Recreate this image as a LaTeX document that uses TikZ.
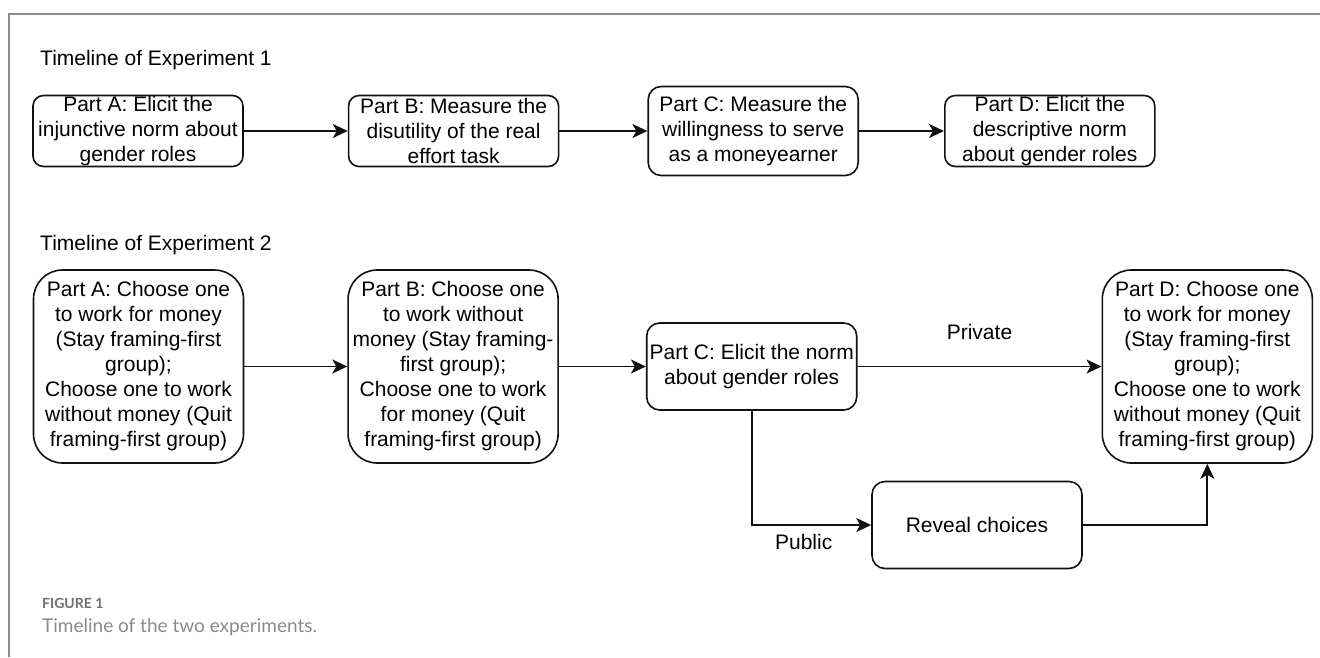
\documentclass[tikz,border=0pt]{standalone}
\usepackage{fontspec}
\setmainfont{Liberation Sans}
\newfontfamily\capfont{Lato}
\usepackage{tikz}
\usetikzlibrary{arrows.meta,positioning}
\definecolor{ink}{HTML}{111111}
\definecolor{framegrey}{HTML}{8C8C8C}
\definecolor{capgrey}{HTML}{6F6F6F}
\definecolor{capgrey2}{HTML}{8A8A8A}

\begin{document}
\begin{tikzpicture}[
  x=1pt, y=-1pt,
  box/.style={draw=ink, line width=1.6pt, fill=white, minimum width=210pt,
              inner sep=0pt, align=center, font=\fontsize{21}{25}\selectfont},
  shortbox/.style={box, minimum height=71pt, rounded corners=10.5pt},
  tallbox/.style={box, minimum height=193pt, rounded corners=29pt},
  midbox/.style={box, minimum height=87pt, rounded corners=13pt},
  arr/.style={-{Stealth[length=15pt, width=14pt, inset=4pt]}, draw=ink, line width=1.8pt},
  heading/.style={anchor=west, inner sep=0pt, font=\fontsize{21}{25}\selectfont},
  lbl/.style={inner sep=0pt, font=\fontsize{21}{25}\selectfont}
]
\useasboundingbox (0,0) rectangle (1320,657);
\draw[framegrey, line width=1.5pt] (1320,14) -- (9,14) -- (9,657);

% experiment 1
\node[heading] (title1) at (40,60) {Timeline of Experiment 1};
\node[shortbox] (injA) at (138,131) {Part A: Elicit the\\injunctive norm about\\gender roles};
\node[shortbox, right=104pt of injA] (disB) {Part B: Measure the\\disutility of the real\\effort task};
\node[shortbox, minimum height=89pt, rounded corners=13pt, right=88pt of disB] (willC) {Part C: Measure the\\willingness to serve\\as a moneyearner};
\node[shortbox, right=85pt of willC] (descD) {Part D: Elicit the\\descriptive norm\\about gender roles};

\draw[arr] (injA) -- (disB);
\draw[arr] (disB) -- (willC);
\draw[arr] (willC) -- (descD);

% experiment 2
\node[heading] (title2) at (40,245) {Timeline of Experiment 2};
\node[tallbox] (chooseA) at (138.5,366.5) {Part A: Choose one\\to work for money\\(Stay framing-first\\group);\\Choose one to work\\without money (Quit\\framing-first group)};
\node[tallbox, right=103pt of chooseA] (chooseB) {Part B: Choose one\\to work without\\money (Stay framing-\\first group);\\Choose one to work\\for money (Quit\\framing-first group)};
\node[midbox, right=87pt of chooseB] (normC) {Part C: Elicit the norm\\about gender roles};
\node[tallbox, right=244pt of normC] (chooseD) {Part D: Choose one\\to work for money\\(Stay framing-first\\group);\\Choose one to work\\without money (Quit\\framing-first group)};
\node[midbox] (reveal) at (977,525) {Reveal choices};

\draw[arr] (chooseA) -- (chooseB);
\draw[arr] (chooseB) -- (normC);
\draw[arr] (normC) -- node[lbl, yshift=35pt] (private) {Private} (chooseD);
\draw[arr] (normC.south) |- (reveal.west);
\draw[arr] (reveal.east) -| (chooseD.south);
\coordinate (pubturn) at (normC.south |- reveal.west);
\node[lbl] (public) at ([xshift=52pt, yshift=-17pt]pubturn) {Public};

% caption
\node[anchor=west, inner sep=0pt, text=capgrey,
      font=\capfont\bfseries\fontsize{14}{16}\selectfont] (figno) at (42,603) {FIGURE 1};
\node[anchor=west, inner sep=0pt, text=capgrey2,
      font=\capfont\fontsize{19}{22}\selectfont] (caption) at (42,627) {Timeline of the two experiments.};
\end{tikzpicture}
\end{document}
